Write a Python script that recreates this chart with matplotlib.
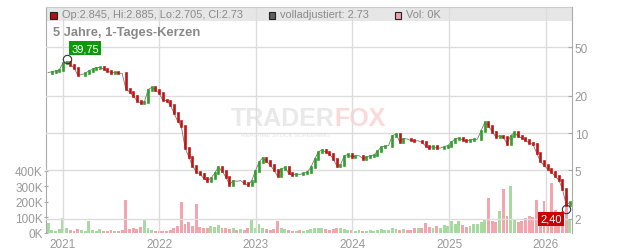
import pandas as pd
import matplotlib
matplotlib.use('Agg')
import matplotlib.pyplot as plt
import matplotlib.dates as mdates
from matplotlib.patches import Rectangle
from matplotlib.ticker import NullLocator

plt.rcParams['font.family'] = ['Liberation Sans', 'DejaVu Sans']

dates = pd.date_range('2020-11-06', periods=142, freq='14D')
closes = [
    31, 31.5, 32, 32.5, 37, 38, 36, 34, 29.5, 29.8,
    30.5, 32, 33, 34, 34.2, 33, 32, 31, 31.2, 30.8,
    30.5, 23, 21.5, 20, 18.3, 17.5, 17.8, 22.5, 23.5, 22.5,
    21, 18.5, 18.3, 17, 14.5, 12.5, 11.3, 7.6, 6.4, 5.4,
    4.85, 4.65, 4.3, 4.1, 4.3, 4.7, 5.3, 4.9, 4.4, 3.8,
    4.1, 4.05, 4.1, 3.9, 3.75, 4.1, 4.9, 5.8, 6.3, 5.9,
    5.5, 5.0, 4.45, 5.1, 5.26, 4.7, 4.55, 4.65, 4.6, 4.7,
    4.8, 5.26, 6.1, 7.0, 7.3, 7.0, 6.75, 6.2, 5.4, 5.5,
    6.5, 6.7, 6.4, 6.5, 6.55, 6.2, 6.35, 6.55, 6.6, 7.1,
    7.7, 7.8, 7.9, 9.5, 9.8, 8.5, 9.0, 8.95, 8.7, 8.6,
    8.65, 8.4, 7.85, 7.5, 7.8, 7.5, 7.55, 7.75, 7.9, 8.4,
    9.0, 9.1, 8.8, 8.6, 8.8, 8.9, 8.9, 10.4, 12.2, 11.5,
    10.2, 9.3, 9.5, 9.2, 8.2, 9.5, 10.1, 9.4, 9.1, 8.7,
    8.3, 8.1, 6.9, 5.9, 5.45, 5.1, 4.8, 4.45, 4.15, 3.5,
    2.6, 2.73,
]
# Volumen in Tausend Stück
volumes = [
    65, 20, 15, 25, 95, 30, 20, 15, 25, 20,
    15, 75, 20, 15, 25, 12, 15, 20, 12, 15,
    18, 215, 25, 30, 25, 40, 90, 35, 20, 15,
    15, 12, 15, 20, 30, 45, 200, 60, 70, 45,
    185, 40, 35, 30, 45, 40, 50, 30, 35, 25,
    30, 20, 25, 20, 30, 90, 35, 60, 30, 25,
    20, 25, 75, 30, 25, 20, 15, 15, 20, 15,
    20, 25, 30, 35, 30, 25, 20, 25, 35, 30,
    25, 20, 20, 15, 20, 15, 15, 20, 15, 20,
    25, 20, 20, 30, 25, 20, 25, 20, 20, 35,
    30, 35, 65, 40, 30, 45, 35, 50, 45, 75,
    55, 75, 50, 40, 45, 55, 60, 70, 90, 225,
    80, 70, 140, 285, 110, 305, 90, 70, 80, 95,
    110, 100, 215, 120, 205, 130, 320, 150, 120, 140,
    240, 90,
]

hi_idx, hi_val = 5, 39.75
lo_idx, lo_val = 140, 2.40
title = '5 Jahre, 1-Tages-Kerzen'
ohlc_text = 'Op:2.845, Hi:2.885, Lo:2.705, Cl:2.73'
adj_text = 'volladjustiert: 2.73'
vol_text = 'Vol: 0K'
price_ticks = [2, 5, 10, 20, 50]
vol_ticks = [0, 100, 200, 300, 400]

GREEN = '#2f9e2a'
RED = '#c01414'
GRID = '#dcdcdc'
TXT = '#999999'

opens = [closes[0]] + closes[:-1]
up = [c >= o for o, c in zip(opens, closes)]

fig = plt.figure(figsize=(6.32, 2.53), dpi=100)
ax = fig.add_axes([46 / 632, 19 / 253, 526 / 632, 226 / 253])
ax_p = ax.twinx()

# Kopfleiste
ax.add_patch(Rectangle((0, 0.938), 1, 0.062, transform=ax.transAxes,
                       facecolor='#e6e6e6', edgecolor='none', zorder=0.1))

# Wasserzeichen
ax.text(0.549, 0.478, 'TRADER', transform=ax.transAxes, ha='right', va='baseline',
        fontsize=18, fontweight='bold', color='#e9e9e9', zorder=0.2)
ax.text(0.549, 0.478, 'FOX', transform=ax.transAxes, ha='left', va='baseline',
        fontsize=18, fontweight='bold', color='#fbd9d9', zorder=0.2)
ax.text(0.455, 0.438, 'REALTIME STOCK SCREENING', transform=ax.transAxes,
        ha='center', va='center', fontsize=4.3, color='#e4e4e4', zorder=0.2)

# Volumen
vol_colors = ['#a6dba0' if u else '#f2a5ad' for u in up]
ax.bar(dates, volumes, width=11, color=vol_colors, zorder=1)
ax.set_ylim(0, 1458)
ax.set_yticks(vol_ticks)
ax.set_yticklabels([f'{v}K' for v in vol_ticks])

# Kerzen
ax_p.plot(dates, closes, color='#777777', lw=0.6, zorder=1.8)
lc = ax_p.vlines(dates, [min(o, c) for o, c in zip(opens, closes)],
                 [max(o, c) for o, c in zip(opens, closes)],
                 colors=[GREEN if u else RED for u in up], lw=1.9, zorder=2)
lc.set_capstyle('projecting')

ax_p.set_yscale('log')
ax_p.set_ylim(1.538, 105.8)
ax_p.set_yticks(price_ticks)
ax_p.set_yticklabels([str(t) for t in price_ticks])
ax_p.yaxis.set_minor_locator(NullLocator())

# Extremwerte
ax_p.plot([dates[hi_idx]], [hi_val], 'o', ms=6, mfc='none', mec='#333333', mew=0.8, zorder=4)
ax_p.annotate(f'{hi_val:.2f}'.replace('.', ','), xy=(dates[hi_idx], hi_val),
              xytext=(13.5, 8), textcoords='offset points', ha='center', va='center',
              fontsize=8, color='white', zorder=5,
              bbox=dict(boxstyle='square,pad=0.2', fc='#0a9a0a', ec='none'))
ax_p.plot([dates[lo_idx]], [lo_val], 'o', ms=6, mfc='none', mec='#333333', mew=0.8, zorder=4)
ax_p.annotate(f'{lo_val:.2f}'.replace('.', ','), xy=(dates[lo_idx], lo_val),
              xytext=(-10.6, -7), textcoords='offset points', ha='center', va='center',
              fontsize=8, color='white', zorder=5,
              bbox=dict(boxstyle='square,pad=0.2', fc='#cc0000', ec='none'))

# Achsen
ax.set_xlim(pd.Timestamp('2020-10-29'), pd.Timestamp('2026-04-11'))
ax.xaxis.set_major_locator(mdates.YearLocator())
ax.xaxis.set_major_formatter(mdates.DateFormatter('%Y'))
ax.grid(axis='x', color=GRID, lw=1)
ax_p.grid(axis='y', color=GRID, lw=1)

ax.tick_params(axis='x', length=0, labelcolor=TXT, labelsize=8.5, pad=3.5)
ax.tick_params(axis='y', direction='inout', length=3, color='#aaaaaa',
               labelcolor=TXT, labelsize=8.5, pad=0.8)
ax_p.tick_params(axis='y', direction='in', length=3, color='#aaaaaa',
                 labelcolor=TXT, labelsize=8.5, pad=2)

for s in ['right', 'bottom']:
    ax.spines[s].set_visible(False)
ax.spines['left'].set_color('#aaaaaa')
ax.spines['top'].set_color('#cccccc')
for s in ['left', 'top', 'bottom']:
    ax_p.spines[s].set_visible(False)
ax_p.spines['right'].set_color('#aaaaaa')

# Legende in der Kopfleiste
def px(x, y):
    return x / 632, 1 - y / 253

for (x0, fc, label) in [(50, '#b01010', ohlc_text), (268.5, '#5e5e5e', adj_text),
                        (394.5, '#f0a0a8', vol_text)]:
    fig.add_artist(Rectangle(px(x0, 19.5), 6.5 / 632, 6.5 / 253, transform=fig.transFigure,
                             facecolor=fc, edgecolor='#222222', lw=0.8))
    fig.text(*px(x0 + 11.5, 15.5), label, ha='left', va='center', fontsize=7.9, color='#8a8a8a')

fig.text(*px(53, 33), title, ha='left', va='center', fontsize=9.3,
         fontweight='bold', color='#888888')

fig.savefig('out.png', dpi=100)
